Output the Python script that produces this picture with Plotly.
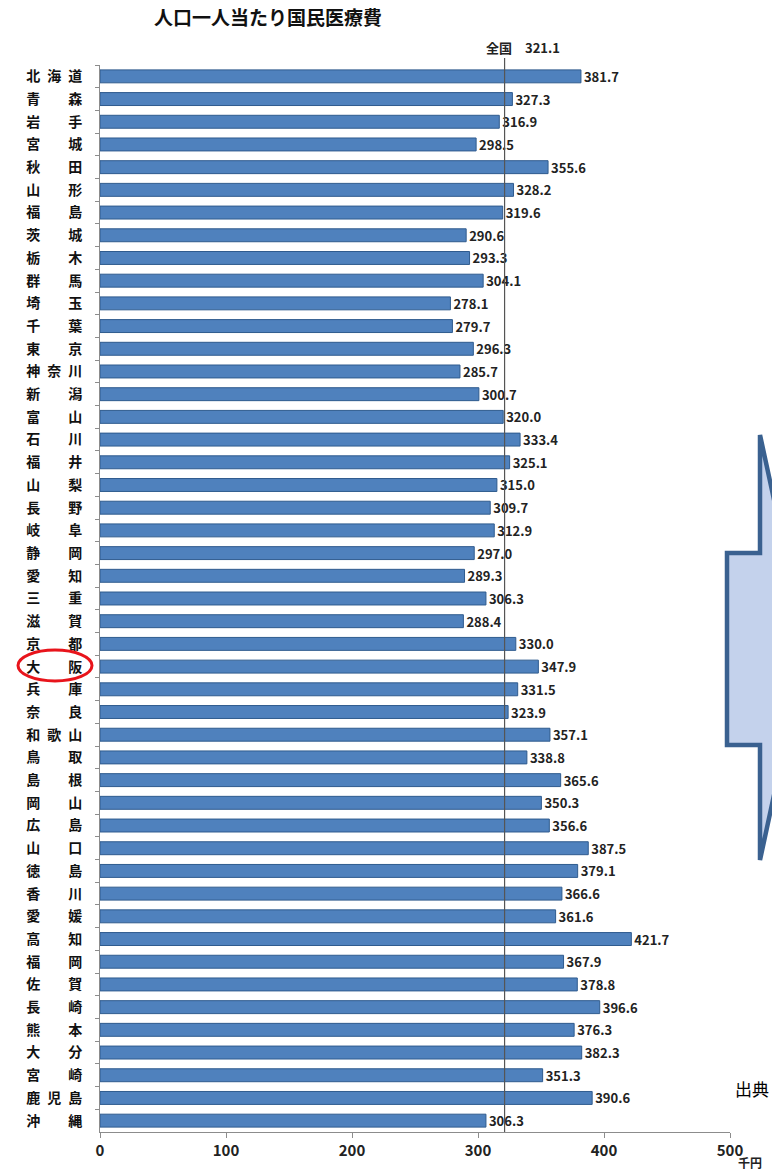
import plotly.graph_objects as go

prefectures = ["北海道", "青森", "岩手", "宮城", "秋田", "山形", "福島", "茨城", "栃木", "群馬",
               "埼玉", "千葉", "東京", "神奈川", "新潟", "富山", "石川", "福井", "山梨", "長野",
               "岐阜", "静岡", "愛知", "三重", "滋賀", "京都", "大阪", "兵庫", "奈良", "和歌山",
               "鳥取", "島根", "岡山", "広島", "山口", "徳島", "香川", "愛媛", "高知", "福岡",
               "佐賀", "長崎", "熊本", "大分", "宮崎", "鹿児島", "沖縄"]
values = [381.7, 327.3, 316.9, 298.5, 355.6, 328.2, 319.6, 290.6, 293.3, 304.1,
          278.1, 279.7, 296.3, 285.7, 300.7, 320.0, 333.4, 325.1, 315.0, 309.7,
          312.9, 297.0, 289.3, 306.3, 288.4, 330.0, 347.9, 331.5, 323.9, 357.1,
          338.8, 365.6, 350.3, 356.6, 387.5, 379.1, 366.6, 361.6, 421.7, 367.9,
          378.8, 396.6, 376.3, 382.3, 351.3, 390.6, 306.3]
national_avg = 321.1
x_ticks = [0, 100, 200, 300, 400, 500]


def spaced(name):
    if len(name) == 2:
        return name[0] + "\u3000\u3000" + name[1]
    return "\u2002".join(name)


labels = [spaced(p) for p in prefectures]

W, H = 772, 1173
ML, MR, MT, MB = 100, 42, 65, 41
PW, PH = W - ML - MR, H - MT - MB


def px2x(px):
    return (px - ML) / PW


def px2y(py):
    return (H - MB - py) / PH


FONT = "Noto Sans CJK JP"

fig = go.Figure()
fig.add_trace(go.Bar(
    x=values, y=labels, orientation="h",
    marker=dict(color="#4F81BD", line=dict(color="#2F5B8E", width=1)),
    texttemplate="%{x:.1f}", textposition="outside", cliponaxis=False,
    constraintext="none",
    textfont=dict(family=FONT, size=13, color="#222222", weight="bold"),
    hoverinfo="skip",
))

shapes = [
    dict(type="line", xref="x", yref="paper", x0=national_avg, x1=national_avg,
         y0=0, y1=px2y(58), line=dict(color="#555555", width=1.2), layer="above"),
    dict(type="circle", xref="paper", yref="paper",
         x0=px2x(18), x1=px2x(92), y0=px2y(681), y1=px2y(650),
         line=dict(color="#E8141B", width=3)),
]
pts = [(727, 553), (760, 553), (760, 435), (806, 647), (760, 860), (760, 745), (727, 745)]
path = "M " + " L ".join(f"{px2x(a):.5f},{px2y(b):.5f}" for a, b in pts) + " Z"
shapes.append(dict(type="path", xref="paper", yref="paper", path=path,
                   fillcolor="#C4D2EC", line=dict(color="#3A6190", width=4.5)))

annotations = [
    dict(text="人口一人当たり国民医療費", xref="paper", yref="paper",
         x=px2x(268), y=px2y(17), xanchor="center", yanchor="middle", showarrow=False,
         font=dict(family=FONT, size=19, color="#111111", weight="bold")),
    dict(text="全国　321.1", xref="paper", yref="paper",
         x=px2x(523), y=px2y(47), xanchor="center", yanchor="middle", showarrow=False,
         font=dict(family=FONT, size=13, color="#222222", weight="bold")),
    dict(text="千円", xref="paper", yref="paper",
         x=px2x(736), y=px2y(1173), xanchor="left", yanchor="bottom", showarrow=False,
         font=dict(family=FONT, size=12, color="#222222", weight="bold")),
    dict(text="出典", xref="paper", yref="paper",
         x=px2x(733), y=px2y(1088), xanchor="left", yanchor="middle", showarrow=False,
         font=dict(family=FONT, size=17, color="#000000")),
]

fig.update_layout(
    width=W, height=H,
    margin=dict(l=ML, r=MR, t=MT, b=MB),
    paper_bgcolor="white", plot_bgcolor="white",
    showlegend=False, bargap=0.43,
    shapes=shapes, annotations=annotations,
    font=dict(family=FONT),
)
fig.update_xaxes(
    range=[0, 500], tickvals=x_ticks, showgrid=False, zeroline=False,
    showline=True, linecolor="#8C8C8C", linewidth=1,
    ticks="outside", ticklen=5, tickcolor="#8C8C8C",
    tickfont=dict(family=FONT, size=15, color="#222222", weight="bold"),
)
fig.update_yaxes(
    autorange="reversed", showgrid=False, zeroline=False,
    showline=True, linecolor="#8C8C8C", linewidth=1,
    ticks="outside", ticklen=4, tickcolor="#8C8C8C", tickson="boundaries",
    ticklabelstandoff=14,
    tickfont=dict(family=FONT, size=14, color="#111111", weight="bold"),
)

fig.write_html("out.html")
